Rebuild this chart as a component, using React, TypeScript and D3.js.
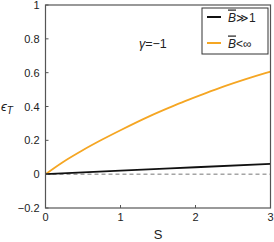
import React from "react";
import * as d3 from "d3";

const sInf = [0, 0.22, 0.49, 0.75, 1.02, 1.39, 1.66, 1.86, 2.13, 2.39, 2.66, 2.93, 3];
const epsInf = [0, 0.068, 0.14, 0.203, 0.264, 0.343, 0.395, 0.432, 0.478, 0.52, 0.56, 0.597, 0.606];
const sLarge = [0, 1, 2, 3];
const epsLarge = [0, 0.021, 0.041, 0.061];
const xTicks = [0, 1, 2, 3];
const yTicks = [-0.2, 0, 0.2, 0.4, 0.6, 0.8, 1];

const W = 274, H = 242;
const L = 45.5, R = 270.5, T = 5, B = 208;

export default function App() {
  const x = d3.scaleLinear().domain([0, 3]).range([L, R]);
  const y = d3.scaleLinear().domain([-0.2, 1]).range([B, T]);
  const line = d3.line<[number, number]>().x(d => x(d[0])).y(d => y(d[1])).curve(d3.curveMonotoneX);
  const orange = line(sInf.map((s, i) => [s, epsInf[i]]) as [number, number][]) || "";
  const black = line(sLarge.map((s, i) => [s, epsLarge[i]]) as [number, number][]) || "";
  const font = "Liberation Sans, Arial, Helvetica, sans-serif";
  const fmt = (v: number) => (v < 0 ? "\u2212" + Math.abs(v) : String(v));
  const axisCol = "#555";
  return (
    <svg width={W} height={H} style={{ position: "absolute", left: 0, top: 0 }} fontFamily={font}>
      <rect x={0} y={0} width={W} height={H} fill="#fff" />
      <line x1={x(0)} x2={x(3)} y1={y(0)} y2={y(0)} stroke="#777" strokeWidth={1} strokeDasharray="4,3" />
      <path d={orange} fill="none" stroke="#f5a623" strokeWidth={1.8} />
      <path d={black} fill="none" stroke="#111" strokeWidth={1.8} />
      <rect x={L} y={T} width={R - L} height={B - T} fill="none" stroke={axisCol} strokeWidth={1.2} />
      {yTicks.map(v => (
        <g key={"y" + v}>
          <line x1={L} x2={L + 3} y1={y(v)} y2={y(v)} stroke={axisCol} />
          <text x={L - 6} y={y(v) + 4} fontSize={11} textAnchor="end" fill="#222">{fmt(v)}</text>
        </g>
      ))}
      {xTicks.map(v => (
        <g key={"x" + v}>
          <line x1={x(v)} x2={x(v)} y1={B} y2={B - 3} stroke={axisCol} />
          <text x={x(v)} y={B + 13} fontSize={11} textAnchor="middle" fill="#222">{v}</text>
        </g>
      ))}
      <text x={158} y={239} fontSize={13} textAnchor="middle" fill="#222">S</text>
      <text x={1} y={111} fontSize={13} fill="#222">
        <tspan fontStyle="italic">ϵ</tspan>
        <tspan fontStyle="italic" fontSize={10} dy={3}>T</tspan>
      </text>
      <text x={139} y={48} fontSize={12.5} fill="#222">
        <tspan fontStyle="italic">γ</tspan>=−1
      </text>
      <rect x={202} y={8} width={66} height={46} fill="#fff" stroke="#333" strokeWidth={1} />
      <line x1={207} x2={221} y1={17} y2={17} stroke="#111" strokeWidth={2} />
      <line x1={207} x2={221} y1={43} y2={43} stroke="#f5a623" strokeWidth={2} />
      <text x={228} y={21.5} fontSize={12} fill="#222">
        <tspan fontStyle="italic" style={{ textDecoration: "overline" }}>B</tspan>≫1
      </text>
      <text x={228} y={47.5} fontSize={12} fill="#222">
        <tspan fontStyle="italic" style={{ textDecoration: "overline" }}>B</tspan>&lt;∞
      </text>
    </svg>
  );
}
